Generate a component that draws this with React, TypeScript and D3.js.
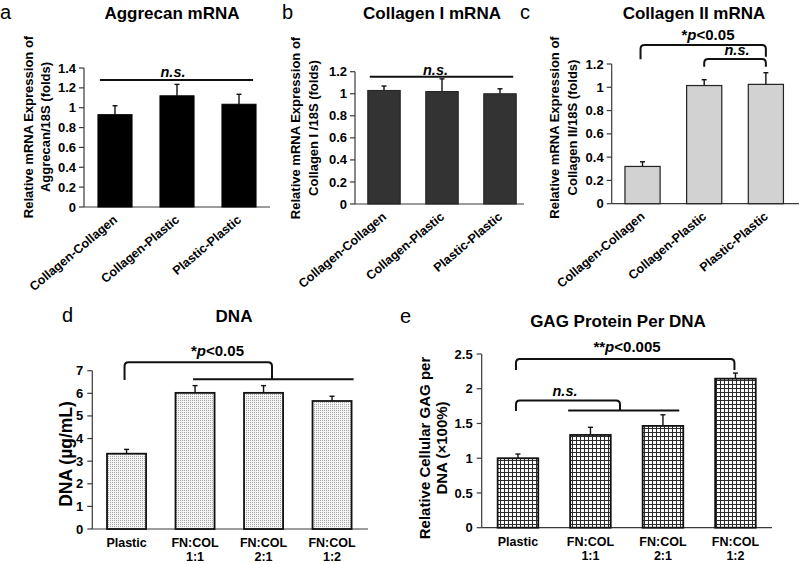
import React from "react";
import * as d3 from "d3";

// ---------- data ----------
const abcCategories = ["Collagen-Collagen", "Collagen-Plastic", "Plastic-Plastic"];
const aggrecanMean = [0.93, 1.12, 1.035];
const aggrecanErr = [0.09, 0.115, 0.1];
const col1Mean = [1.03, 1.02, 1.0];
const col1Err = [0.04, 0.115, 0.045];
const col2Mean = [0.32, 1.015, 1.025];
const col2Err = [0.04, 0.05, 0.1];

const deCategories = [["Plastic"], ["FN:COL", "1:1"], ["FN:COL", "2:1"], ["FN:COL", "1:2"]];
const dnaMean = [3.33, 6.02, 6.02, 5.66];
const dnaErr = [0.19, 0.32, 0.32, 0.21];
const gagMean = [1.0, 1.335, 1.465, 2.145];
const gagErr = [0.06, 0.11, 0.16, 0.08];

const aTicks = [0, 0.2, 0.4, 0.6, 0.8, 1, 1.2, 1.4];
const bTicks = [0, 0.2, 0.4, 0.6, 0.8, 1, 1.2];
const cTicks = [0, 0.2, 0.4, 0.6, 0.8, 1, 1.2];
const dTicks = [0, 1, 2, 3, 4, 5, 6, 7];
const eTicks = [0, 0.5, 1, 1.5, 2, 2.5];

const FONT = "'Liberation Sans', Arial, Helvetica, sans-serif";
const AXIS = "#3a3a3a";

type Sc = { x: d3.ScaleBand<number>; y: d3.ScaleLinear<number, number> };

function makeScales(n: number, xr: [number, number], yr: [number, number], max: number, pad: number): Sc {
  const x = d3.scaleBand<number>().domain(d3.range(n)).range(xr).paddingInner(pad).paddingOuter(pad / 2);
  const y = d3.scaleLinear().domain([0, max]).range(yr);
  return { x, y };
}

function Axes({ sc, ticks, xEnd, fontSize, gap }: { sc: Sc; ticks: number[]; xEnd: number; fontSize: number; gap: number }) {
  const x0 = sc.x.range()[0];
  const y0 = sc.y(0);
  const yTop = sc.y(ticks[ticks.length - 1]);
  return (
    <g>
      <line x1={x0} x2={x0} y1={y0} y2={yTop} stroke={AXIS} strokeWidth={1.2} />
      <line x1={x0} x2={xEnd} y1={y0} y2={y0} stroke={AXIS} strokeWidth={1.2} />
      {ticks.map((t) => (
        <g key={t}>
          <line x1={x0 - 5} x2={x0} y1={sc.y(t)} y2={sc.y(t)} stroke={AXIS} strokeWidth={1.2} />
          <text x={x0 - gap} y={sc.y(t)} dy="0.35em" textAnchor="end" fontSize={fontSize} fontWeight="bold" fontFamily={FONT}>
            {String(t)}
          </text>
        </g>
      ))}
    </g>
  );
}

function Bars({ sc, means, errs, fill, stroke, sw }: { sc: Sc; means: number[]; errs: number[]; fill: string; stroke: string; sw: number }) {
  const bw = sc.x.bandwidth();
  return (
    <g>
      {means.map((m, i) => {
        const cx = (sc.x(i) as number) + bw / 2;
        return (
          <g key={i}>
            <line x1={cx} x2={cx} y1={sc.y(m)} y2={sc.y(m + errs[i])} stroke="#111" strokeWidth={1.4} />
            <line x1={cx - 2.5} x2={cx + 2.5} y1={sc.y(m + errs[i])} y2={sc.y(m + errs[i])} stroke="#111" strokeWidth={1.4} />
            <rect x={sc.x(i)} y={sc.y(m)} width={bw} height={sc.y(0) - sc.y(m)} fill={fill} stroke={stroke} strokeWidth={sw} />
          </g>
        );
      })}
    </g>
  );
}

function RotLabels({ sc, cats }: { sc: Sc; cats: string[] }) {
  const bw = sc.x.bandwidth();
  const y0 = sc.y(0);
  return (
    <g>
      {cats.map((c, i) => {
        const cx = (sc.x(i) as number) + bw / 2;
        return (
          <text key={c} transform={`translate(${cx + 3},${y0 + 14}) rotate(-40)`} textAnchor="end" fontSize={12.5} fontWeight="bold" fontFamily={FONT}>
            {c}
          </text>
        );
      })}
    </g>
  );
}

function StackLabels({ sc, cats, y1 }: { sc: Sc; cats: string[][]; y1: number }) {
  const bw = sc.x.bandwidth();
  return (
    <g>
      {cats.map((lines, i) => {
        const cx = (sc.x(i) as number) + bw / 2;
        return (
          <text key={i} textAnchor="middle" fontSize={12.5} fontWeight="bold" fontFamily={FONT}>
            {lines.map((l, j) => (
              <tspan key={j} x={cx} y={y1 + j * 14}>
                {l}
              </tspan>
            ))}
          </text>
        );
      })}
    </g>
  );
}

function YLabel({ lines, x, yc, fontSize, lh }: { lines: string[]; x: number; yc: number; fontSize: number; lh: number }) {
  return (
    <g>
      {lines.map((l, j) => (
        <text key={j} transform={`translate(${x + j * lh},${yc}) rotate(-90)`} textAnchor="middle" fontSize={fontSize} fontWeight="bold" fontFamily={FONT}>
          {l}
        </text>
      ))}
    </g>
  );
}

function bracket(xL: number, xR: number, yTop: number, yL: number, yR: number, r = 4) {
  return `M${xL},${yL} V${yTop + r} Q${xL},${yTop} ${xL + r},${yTop} H${xR - r} Q${xR},${yTop} ${xR},${yTop + r} V${yR}`;
}

function Title({ x, y, text }: { x: number; y: number; text: string }) {
  return (
    <text x={x} y={y} textAnchor="middle" fontSize={17} fontWeight="bold" fontFamily={FONT}>
      {text}
    </text>
  );
}

function Letter({ x, y, text }: { x: number; y: number; text: string }) {
  return (
    <text x={x} y={y} fontSize={20} fontFamily={FONT}>
      {text}
    </text>
  );
}

function PText({ x, y, stars, p }: { x: number; y: number; stars: string; p: string }) {
  return (
    <text x={x} y={y} textAnchor="middle" fontSize={15} fontWeight="bold" fontFamily={FONT}>
      <tspan>{stars}</tspan>
      <tspan fontStyle="italic">p</tspan>
      <tspan>{p}</tspan>
    </text>
  );
}

function NS({ x, y }: { x: number; y: number }) {
  return (
    <text x={x} y={y} textAnchor="middle" fontSize={14.5} fontWeight="bold" fontStyle="italic" fontFamily={FONT}>
      n.s.
    </text>
  );
}

export default function App() {
  const sa = makeScales(3, [84, 270], [207, 68], 1.4, 0.45);
  const sb = makeScales(3, [355, 529], [204, 71.7], 1.2, 0.44);
  const scc = makeScales(3, [611.7, 796.7], [203.7, 64], 1.2, 0.43);
  const sd = makeScales(4, [92.3, 366.3], [529, 370.7], 7, 0.43);
  const se = makeScales(4, [481.7, 771.7], [527.7, 354], 2.5, 0.44);

  const cen = (s: Sc, i: number) => (s.x(i) as number) + s.x.bandwidth() / 2;
  const left = (s: Sc, i: number) => s.x(i) as number;
  const right = (s: Sc, i: number) => (s.x(i) as number) + s.x.bandwidth();

  return (
    <svg width={800} height={564} style={{ position: "absolute", left: 0, top: 0, background: "#fff" }}>
      <defs>
        <pattern id="stipple" patternUnits="userSpaceOnUse" width={2} height={2}>
          <rect width={2} height={2} fill="#f3f3f3" />
          <rect width={1} height={1} fill="#a8a8a8" />
        </pattern>
        <pattern id="grid" patternUnits="userSpaceOnUse" width={4} height={4}>
          <rect width={4} height={4} fill="#ffffff" />
          <rect width={4} height={1} fill="#2a2a2a" />
          <rect width={1} height={4} fill="#2a2a2a" />
        </pattern>
      </defs>
      <rect width={800} height={564} fill="#fff" />

      {/* ---------- a ---------- */}
      <Letter x={0} y={19} text="a" />
      <Title x={172} y={19} text="Aggrecan mRNA" />
      <YLabel lines={["Relative mRNA Expression of", "Aggrecan/18S (folds)"]} x={32.5} yc={127} fontSize={13} lh={17.5} />
      <Axes sc={sa} ticks={aTicks} xEnd={270} fontSize={13} gap={8} />
      <Bars sc={sa} means={aggrecanMean} errs={aggrecanErr} fill="#000" stroke="#000" sw={1} />
      <RotLabels sc={sa} cats={abcCategories} />
      <line x1={left(sa, 0) + 2} x2={right(sa, 2) - 3} y1={sa.y(1.28)} y2={sa.y(1.28)} stroke="#111" strokeWidth={2} />
      <NS x={173} y={sa.y(1.31)} />

      {/* ---------- b ---------- */}
      <Letter x={282} y={19} text="b" />
      <Title x={432} y={19} text="Collagen I mRNA" />
      <YLabel lines={["Relative mRNA Expression of", "Collagen I /18S (folds)"]} x={300} yc={128} fontSize={13} lh={17.5} />
      <Axes sc={sb} ticks={bTicks} xEnd={524} fontSize={13} gap={8} />
      <Bars sc={sb} means={col1Mean} errs={col1Err} fill="#333" stroke="#222" sw={1} />
      <RotLabels sc={sb} cats={abcCategories} />
      <line x1={left(sb, 0) + 2} x2={right(sb, 2) - 3} y1={sb.y(1.155)} y2={sb.y(1.155)} stroke="#111" strokeWidth={2} />
      <NS x={435.5} y={sb.y(1.17)} />

      {/* ---------- c ---------- */}
      <Letter x={520} y={19} text="c" />
      <Title x={694} y={19} text="Collagen II mRNA" />
      <YLabel lines={["Relative mRNA Expression of", "Collagen II/18S (folds)"]} x={559} yc={127.5} fontSize={13} lh={17.5} />
      <Axes sc={scc} ticks={cTicks} xEnd={799} fontSize={13} gap={8} />
      <Bars sc={scc} means={col2Mean} errs={col2Err} fill="#d2d2d2" stroke="#222" sw={1.2} />
      <RotLabels sc={scc} cats={abcCategories} />
      <path d={bracket(cen(scc, 0) - 2, cen(scc, 2), scc.y(1.363), scc.y(1.24), scc.y(1.263))} fill="none" stroke="#111" strokeWidth={2} />
      <path d={bracket(cen(scc, 1), cen(scc, 2), scc.y(1.243), scc.y(1.177), scc.y(1.177))} fill="none" stroke="#111" strokeWidth={2} />
      <PText x={708} y={40} stars="*" p="<0.05" />
      <NS x={737} y={55} />

      {/* ---------- d ---------- */}
      <Letter x={62} y={322} text="d" />
      <Title x={234} y={322} text="DNA" />
      <YLabel lines={["DNA (µg/mL)"]} x={72} yc={454} fontSize={17.5} lh={0} />
      <Axes sc={sd} ticks={dTicks} xEnd={368} fontSize={13} gap={9} />
      <Bars sc={sd} means={dnaMean} errs={dnaErr} fill="url(#stipple)" stroke="#111" sw={1.8} />
      <StackLabels sc={sd} cats={deCategories} y1={546.5} />
      <path d={bracket(cen(sd, 0) - 2, 272, sd.y(7.37), sd.y(6.59), sd.y(6.62))} fill="none" stroke="#111" strokeWidth={2} />
      <line x1={cen(sd, 1) - 2} x2={right(sd, 3) + 2} y1={sd.y(6.62)} y2={sd.y(6.62)} stroke="#111" strokeWidth={2} />
      <PText x={217.5} y={356} stars="*" p="<0.05" />

      {/* ---------- e ---------- */}
      <Letter x={400} y={323} text="e" />
      <Title x={618} y={327} text="GAG Protein Per DNA" />
      <YLabel lines={["Relative Cellular GAG per", "DNA (×100%)"]} x={430} yc={448} fontSize={15} lh={17} />
      <Axes sc={se} ticks={eTicks} xEnd={772} fontSize={13} gap={9} />
      <Bars sc={se} means={gagMean} errs={gagErr} fill="url(#grid)" stroke="#111" sw={1.8} />
      <StackLabels sc={se} cats={deCategories} y1={546} />
      <path d={bracket(cen(se, 0) - 2, cen(se, 3) - 1, se.y(2.427), se.y(2.27), se.y(2.27))} fill="none" stroke="#111" strokeWidth={2} />
      <path d={bracket(cen(se, 0) - 2, 620, se.y(1.83), se.y(1.68), se.y(1.686))} fill="none" stroke="#111" strokeWidth={2} />
      <line x1={left(se, 1) - 2} x2={right(se, 2) - 4} y1={se.y(1.686)} y2={se.y(1.686)} stroke="#111" strokeWidth={2} />
      <PText x={627} y={352} stars="**" p="<0.005" />
      <NS x={565} y={396} />
    </svg>
  );
}
